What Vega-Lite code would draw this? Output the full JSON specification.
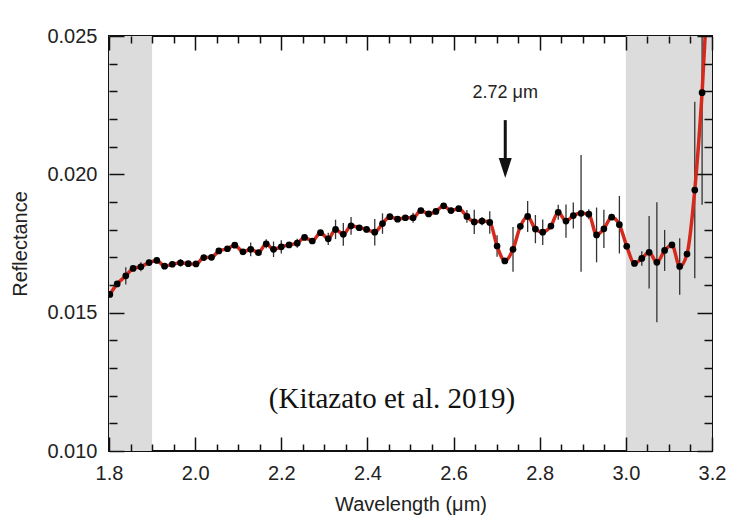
{
  "$schema": "https://vega.github.io/schema/vega-lite/v6.json",
  "width": 603,
  "height": 415,
  "autosize": "none",
  "padding": {"left": 109, "top": 36, "right": 18, "bottom": 69},
  "background": "white",
  "resolve": {"axis": {"x": "independent", "y": "independent"}},
  "config": {
    "view": {"stroke": "#111", "strokeWidth": 2},
    "axis": {
      "labelFont": "Liberation Sans",
      "titleFont": "Liberation Sans",
      "labelFontSize": 20,
      "titleFontSize": 20,
      "titleFontWeight": "normal",
      "labelColor": "#222",
      "titleColor": "#222",
      "tickColor": "#111",
      "tickWidth": 1.5,
      "domain": false,
      "grid": false,
      "zindex": 2
    }
  },
  "datasets": {
    "spec": [
      {"w":1.802,"r":0.01566,"lo":0.01556,"hi":0.01576},
      {"w":1.819,"r":0.01604,"lo":0.01594,"hi":0.01614},
      {"w":1.839,"r":0.01633,"lo":0.01602,"hi":0.01664},
      {"w":1.856,"r":0.01660,"lo":0.01650,"hi":0.01670},
      {"w":1.874,"r":0.01666,"lo":0.01650,"hi":0.01682},
      {"w":1.893,"r":0.01681,"lo":0.01671,"hi":0.01691},
      {"w":1.911,"r":0.01689,"lo":0.01679,"hi":0.01699},
      {"w":1.929,"r":0.01668,"lo":0.01658,"hi":0.01678},
      {"w":1.947,"r":0.01675,"lo":0.01665,"hi":0.01685},
      {"w":1.966,"r":0.01680,"lo":0.01667,"hi":0.01693},
      {"w":1.984,"r":0.01677,"lo":0.01667,"hi":0.01687},
      {"w":2.002,"r":0.01676,"lo":0.01666,"hi":0.01686},
      {"w":2.020,"r":0.01699,"lo":0.01689,"hi":0.01709},
      {"w":2.038,"r":0.01700,"lo":0.01690,"hi":0.01710},
      {"w":2.055,"r":0.01723,"lo":0.01713,"hi":0.01733},
      {"w":2.075,"r":0.01731,"lo":0.01721,"hi":0.01741},
      {"w":2.092,"r":0.01744,"lo":0.01734,"hi":0.01754},
      {"w":2.111,"r":0.01720,"lo":0.01710,"hi":0.01730},
      {"w":2.129,"r":0.01729,"lo":0.01704,"hi":0.01754},
      {"w":2.147,"r":0.01717,"lo":0.01707,"hi":0.01727},
      {"w":2.165,"r":0.01749,"lo":0.01733,"hi":0.01765},
      {"w":2.182,"r":0.01729,"lo":0.01701,"hi":0.01757},
      {"w":2.200,"r":0.01738,"lo":0.01714,"hi":0.01762},
      {"w":2.218,"r":0.01745,"lo":0.01735,"hi":0.01755},
      {"w":2.237,"r":0.01751,"lo":0.01735,"hi":0.01767},
      {"w":2.254,"r":0.01772,"lo":0.01762,"hi":0.01782},
      {"w":2.272,"r":0.01759,"lo":0.01749,"hi":0.01769},
      {"w":2.291,"r":0.01789,"lo":0.01779,"hi":0.01799},
      {"w":2.309,"r":0.01767,"lo":0.01745,"hi":0.01789},
      {"w":2.326,"r":0.01801,"lo":0.01766,"hi":0.01836},
      {"w":2.344,"r":0.01783,"lo":0.01742,"hi":0.01824},
      {"w":2.362,"r":0.01814,"lo":0.01782,"hi":0.01846},
      {"w":2.381,"r":0.01807,"lo":0.01797,"hi":0.01817},
      {"w":2.398,"r":0.01801,"lo":0.01791,"hi":0.01811},
      {"w":2.417,"r":0.01791,"lo":0.01743,"hi":0.01839},
      {"w":2.435,"r":0.01822,"lo":0.01785,"hi":0.01859},
      {"w":2.452,"r":0.01847,"lo":0.01837,"hi":0.01857},
      {"w":2.470,"r":0.01838,"lo":0.01828,"hi":0.01848},
      {"w":2.488,"r":0.01843,"lo":0.01833,"hi":0.01853},
      {"w":2.506,"r":0.01843,"lo":0.01825,"hi":0.01861},
      {"w":2.524,"r":0.01869,"lo":0.01859,"hi":0.01879},
      {"w":2.542,"r":0.01857,"lo":0.01847,"hi":0.01867},
      {"w":2.559,"r":0.01866,"lo":0.01856,"hi":0.01876},
      {"w":2.577,"r":0.01886,"lo":0.01876,"hi":0.01896},
      {"w":2.594,"r":0.01869,"lo":0.01859,"hi":0.01879},
      {"w":2.612,"r":0.01876,"lo":0.01866,"hi":0.01886},
      {"w":2.631,"r":0.01848,"lo":0.01825,"hi":0.01871},
      {"w":2.648,"r":0.01828,"lo":0.01784,"hi":0.01872},
      {"w":2.666,"r":0.01831,"lo":0.01816,"hi":0.01846},
      {"w":2.684,"r":0.01826,"lo":0.01785,"hi":0.01867},
      {"w":2.701,"r":0.01741,"lo":0.01702,"hi":0.01780},
      {"w":2.719,"r":0.01687,"lo":0.01677,"hi":0.01697},
      {"w":2.738,"r":0.01729,"lo":0.01648,"hi":0.01810},
      {"w":2.755,"r":0.01812,"lo":0.01802,"hi":0.01822},
      {"w":2.772,"r":0.01848,"lo":0.01792,"hi":0.01904},
      {"w":2.790,"r":0.01802,"lo":0.01751,"hi":0.01853},
      {"w":2.807,"r":0.01791,"lo":0.01745,"hi":0.01837},
      {"w":2.826,"r":0.01813,"lo":0.01803,"hi":0.01823},
      {"w":2.843,"r":0.01863,"lo":0.01836,"hi":0.01890},
      {"w":2.861,"r":0.01831,"lo":0.01771,"hi":0.01891},
      {"w":2.878,"r":0.01851,"lo":0.01804,"hi":0.01898},
      {"w":2.896,"r":0.01859,"lo":0.01648,"hi":0.02070},
      {"w":2.914,"r":0.01856,"lo":0.01838,"hi":0.01874},
      {"w":2.932,"r":0.01781,"lo":0.01682,"hi":0.01880},
      {"w":2.949,"r":0.01803,"lo":0.01734,"hi":0.01872},
      {"w":2.967,"r":0.01845,"lo":0.01835,"hi":0.01855},
      {"w":2.985,"r":0.01818,"lo":0.01714,"hi":0.01922},
      {"w":3.002,"r":0.01740,"lo":0.01730,"hi":0.01750},
      {"w":3.020,"r":0.01678,"lo":0.01668,"hi":0.01688},
      {"w":3.037,"r":0.01696,"lo":0.01670,"hi":0.01722},
      {"w":3.054,"r":0.01718,"lo":0.01587,"hi":0.01849},
      {"w":3.072,"r":0.01682,"lo":0.01465,"hi":0.01899},
      {"w":3.090,"r":0.01725,"lo":0.01651,"hi":0.01799},
      {"w":3.107,"r":0.01745,"lo":0.01735,"hi":0.01755},
      {"w":3.125,"r":0.01667,"lo":0.01565,"hi":0.01769},
      {"w":3.142,"r":0.01712,"lo":0.01702,"hi":0.01722},
      {"w":3.160,"r":0.01943,"lo":0.01624,"hi":0.02262},
      {"w":3.177,"r":0.02295,"lo":0.01890,"hi":0.02700},
      {"w":3.195,"r":0.02820,"lo":0.02820,"hi":0.02820}
    ],
    "shade": [
      {"x0": 1.8, "x1": 1.9},
      {"x0": 3.0, "x1": 3.2}
    ],
    "arrow": [
      {"w": 2.72, "top": 0.02196, "bottom": 0.02052, "head": 0.02023}
    ],
    "labels": [
      {"w": 2.72, "r": 0.02276, "text": "2.72 μm", "kind": "feature"},
      {"w": 2.457, "r": 0.01155, "text": "(Kitazato et al. 2019)", "kind": "cite"}
    ]
  },
  "layer": [
    {
      "data": {"name": "shade"},
      "mark": {"type": "rect", "color": "#dcdcdc", "clip": true},
      "encoding": {
        "x": {
          "field": "x0", "type": "quantitative",
          "scale": {"domain": [1.8, 3.2], "nice": false, "zero": false},
          "axis": {
            "orient": "bottom", "title": null, "labels": false, "tickSize": 7, "offset": -7, "zindex": 3,
            "values": [1.85,1.9,1.95,2.05,2.1,2.15,2.25,2.3,2.35,2.45,2.5,2.55,2.65,2.7,2.75,2.85,2.9,2.95,3.05,3.1,3.15]
          }
        },
        "x2": {"field": "x1"}
      }
    },
    {
      "data": {"name": "spec"},
      "mark": {"type": "rule", "color": "#333", "strokeWidth": 1.3, "clip": true},
      "encoding": {
        "x": {
          "field": "w", "type": "quantitative",
          "scale": {"domain": [1.8, 3.2], "nice": false, "zero": false},
          "axis": {
            "orient": "bottom",
            "title": "Wavelength (μm)",
            "values": [1.8,2.0,2.2,2.4,2.6,2.8,3.0,3.2],
            "format": ".1f",
            "tickSize": 14,
            "offset": -14,
            "zindex": 3,
            "labelPadding": 12,
            "labelFlush": false,
            "titlePadding": 11
          }
        },
        "y": {
          "field": "lo", "type": "quantitative",
          "scale": {"domain": [0.010, 0.025], "nice": false, "zero": false},
          "axis": {
            "orient": "left",
            "title": "Reflectance",
            "values": [0.010,0.015,0.020,0.025],
            "format": ".3f",
            "tickSize": 15,
            "offset": -15,
            "zindex": 3,
            "labelPadding": 12,
            "labelFlush": false,
            "titlePadding": 16
          }
        },
        "y2": {"field": "hi"}
      }
    },
    {
      "data": {"name": "spec"},
      "mark": {"type": "line", "color": "#d42a1e", "strokeWidth": 3.5, "interpolate": "monotone", "clip": true},
      "encoding": {
        "x": {
          "field": "w", "type": "quantitative",
          "scale": {"domain": [1.8, 3.2], "nice": false, "zero": false},
          "axis": {
            "orient": "top", "title": null, "labels": false, "tickSize": 7, "offset": -7, "zindex": 3,
            "values": [1.85,1.9,1.95,2.05,2.1,2.15,2.25,2.3,2.35,2.45,2.5,2.55,2.65,2.7,2.75,2.85,2.9,2.95,3.05,3.1,3.15]
          }
        },
        "y": {
          "field": "r", "type": "quantitative",
          "scale": {"domain": [0.010, 0.025], "nice": false, "zero": false},
          "axis": {
            "orient": "right", "title": null, "labels": false, "tickSize": 8, "offset": -8, "zindex": 3,
            "values": [0.011,0.012,0.013,0.014,0.016,0.017,0.018,0.019,0.021,0.022,0.023,0.024]
          }
        }
      }
    },
    {
      "data": {"name": "spec"},
      "mark": {"type": "point", "filled": true, "color": "#000", "size": 45, "opacity": 1, "clip": true},
      "encoding": {
        "x": {
          "field": "w", "type": "quantitative",
          "scale": {"domain": [1.8, 3.2], "nice": false, "zero": false},
          "axis": {"orient": "top", "title": null, "labels": false, "tickSize": 14, "offset": -14, "zindex": 3, "values": [1.8,2.0,2.2,2.4,2.6,2.8,3.0,3.2]}
        },
        "y": {
          "field": "r", "type": "quantitative",
          "scale": {"domain": [0.010, 0.025], "nice": false, "zero": false},
          "axis": {"orient": "right", "title": null, "labels": false, "tickSize": 15, "offset": -15, "zindex": 3, "values": [0.010,0.015,0.020,0.025]}
        }
      }
    },
    {
      "data": {"name": "arrow"},
      "mark": {"type": "rule", "color": "#111", "strokeWidth": 3},
      "encoding": {
        "x": {"field": "w", "type": "quantitative", "axis": null},
        "y": {
          "field": "top", "type": "quantitative",
          "axis": {
            "orient": "left", "title": null, "labels": false, "tickSize": 8, "offset": -8, "zindex": 3,
            "values": [0.011,0.012,0.013,0.014,0.016,0.017,0.018,0.019,0.021,0.022,0.023,0.024]
          }
        },
        "y2": {"field": "bottom"}
      }
    },
    {
      "data": {"name": "arrow"},
      "mark": {"type": "point", "filled": true, "color": "#111", "opacity": 1, "shape": "M-0.65,-1L0.65,-1L0,1Z", "size": 400},
      "encoding": {
        "x": {"field": "w", "type": "quantitative", "axis": null},
        "y": {"field": "head", "type": "quantitative", "axis": null}
      }
    },
    {
      "data": {"name": "labels"},
      "transform": [{"filter": "datum.kind == 'feature'"}],
      "mark": {"type": "text", "font": "Liberation Sans", "fontSize": 18, "color": "#222", "align": "center", "baseline": "alphabetic"},
      "encoding": {
        "x": {"field": "w", "type": "quantitative", "axis": null},
        "y": {"field": "r", "type": "quantitative", "axis": null},
        "text": {"field": "text"}
      }
    },
    {
      "data": {"name": "labels"},
      "transform": [{"filter": "datum.kind == 'cite'"}],
      "mark": {"type": "text", "font": "Liberation Serif", "fontSize": 29, "color": "#111", "align": "center", "baseline": "alphabetic"},
      "encoding": {
        "x": {"field": "w", "type": "quantitative", "axis": null},
        "y": {"field": "r", "type": "quantitative", "axis": null},
        "text": {"field": "text"}
      }
    }
  ]
}
